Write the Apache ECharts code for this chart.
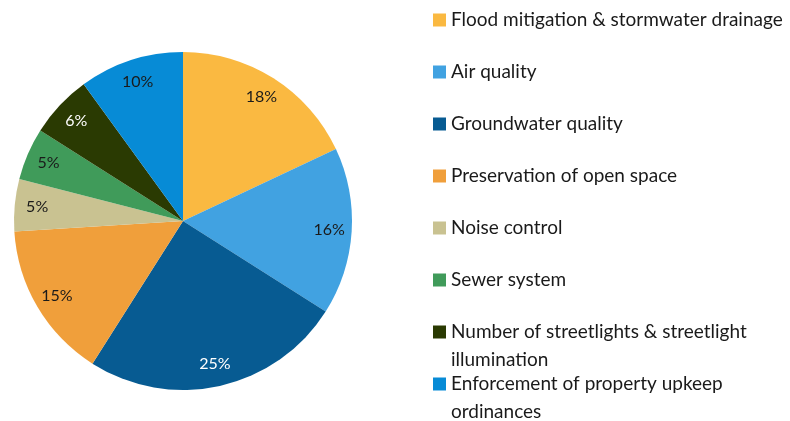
<!DOCTYPE html>
<html>
<head>
<meta charset="utf-8">
<style>html,body{margin:0;padding:0;background:#fff}#c{width:790px;height:421px}</style>
<script src="https://cdn.jsdelivr.net/npm/echarts@6/dist/echarts.min.js"></script>
</head>
<body>
<div id="c"></div>
<script>
const categories = [
  'Flood mitigation & stormwater drainage',
  'Air quality',
  'Groundwater quality',
  'Preservation of open space',
  'Noise control',
  'Sewer system',
  'Number of streetlights & streetlight illumination',
  'Enforcement of property upkeep ordinances'
];
const legendLines = [
  ['Flood mitigation & stormwater drainage'],
  ['Air quality'],
  ['Groundwater quality'],
  ['Preservation of open space'],
  ['Noise control'],
  ['Sewer system'],
  ['Number of streetlights & streetlight', 'illumination'],
  ['Enforcement of property upkeep', 'ordinances']
];
const values = [18, 16, 25, 15, 5, 5, 6, 10];
const colors = ['#FAB941', '#41A2E1', '#075B92', '#F09F3B', '#C9C291', '#409B5A', '#2A3A02', '#078BD6'];
const labelColors = ['#1a1a1a', '#1a1a1a', '#ffffff', '#1a1a1a', '#1a1a1a', '#1a1a1a', '#ffffff', '#1a1a1a'];

const FONT = 'Lato';
const L = 28;
const chart = echarts.init(document.getElementById('c'), null, {renderer: 'canvas'});

const legendData = categories.map((name, i) => {
  const wrapped = legendLines[i].length > 1;
  return {
    name: name,
    itemStyle: {color: colors[i]},
    textStyle: {padding: wrapped ? [L, 0, 0, 0] : [L, 0, L, 0]}
  };
});

chart.setOption({
  animation: false,
  legend: {
    orient: 'vertical',
    left: 433,
    top: 20 - L - L / 2,
    height: 520,
    padding: 0,
    itemGap: 52 - 3 * L,
    itemWidth: 13,
    itemHeight: 13,
    icon: 'rect',
    selectedMode: false,
    data: legendData,
    formatter: function (name) {
      return legendLines[categories.indexOf(name)].map(s => '{t|' + s + '}').join('\n');
    },
    textStyle: {
      fontFamily: FONT,
      fontSize: 19,
      color: '#1a1a1a',
      lineHeight: L,
      backgroundColor: 'transparent',
      rich: {
        t: {fontFamily: FONT, fontSize: 19, color: '#1a1a1a', lineHeight: L}
      }
    }
  },
  series: [
    {
      type: 'pie',
      center: [183, 221],
      radius: [0, 169],
      startAngle: 90,
      clockwise: true,
      silent: true,
      label: {show: false},
      labelLine: {show: false},
      emphasis: {disabled: true},
      data: categories.map((n, i) => ({name: n, value: values[i], itemStyle: {color: colors[i]}}))
    },
    {
      type: 'pie',
      center: [183, 221],
      radius: [118, 169],
      startAngle: 90,
      clockwise: true,
      silent: true,
      itemStyle: {color: 'transparent'},
      labelLine: {show: false},
      emphasis: {disabled: true},
      label: {
        show: true,
        position: 'inside',
        formatter: '{c}%',
        fontFamily: FONT,
        fontSize: 16,
        textBorderWidth: 0
      },
      data: categories.map((n, i) => ({name: n, value: values[i], itemStyle: {color: 'transparent'}, label: {color: labelColors[i]}}))
    }
  ]
});
</script>
</body>
</html>
